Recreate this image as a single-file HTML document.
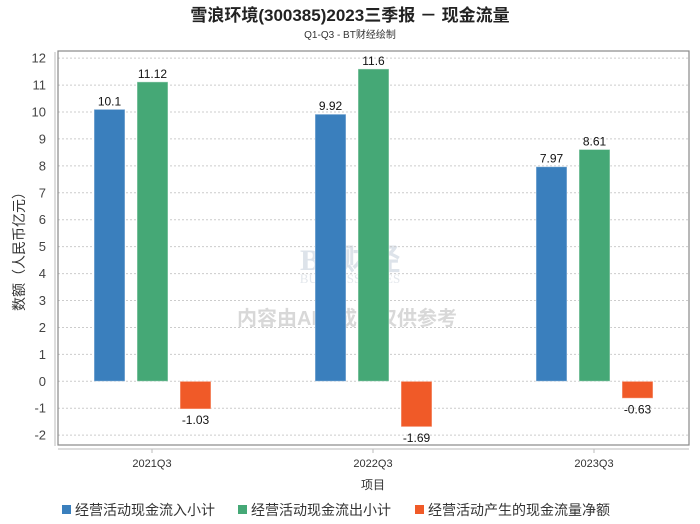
<!DOCTYPE html>
<html><head><meta charset="utf-8"><style>
body{margin:0;background:#fff;}
svg{display:block;font-family:"Liberation Sans","Noto Sans CJK SC",sans-serif;}
</style></head><body>
<svg id="chart" width="700" height="524" xmlns="http://www.w3.org/2000/svg">
<text x="350" y="21" text-anchor="middle" font-size="17" font-weight="bold" fill="#222">雪浪环境(300385)2023三季报 － 现金流量</text>
<text x="350" y="38" text-anchor="middle" font-size="10" fill="#333">Q1-Q3 - BT财经绘制</text>
<text x="350" y="270" text-anchor="middle" font-size="30" font-weight="bold" fill="#dde3ea" font-family="Liberation Serif,serif">BT财经</text>
<text x="350" y="283" text-anchor="middle" font-size="13" fill="#e3e7ec" font-family="Liberation Serif,serif">BUSINESSTIMES</text>
<text x="347" y="325" text-anchor="middle" font-size="20" font-weight="bold" fill="#d8d8d8">内容由AI生成，仅供参考</text>
<g id="grid"></g>
<rect x="58" y="51" width="631" height="394" fill="none" stroke="#888" stroke-width="1.2"/>
<line x1="55" y1="52" x2="55" y2="446" stroke="#bbb"/>
<line x1="58" y1="449" x2="689" y2="449" stroke="#bbb"/>
<g id="bars"></g>
<text transform="translate(24,248) rotate(-90)" text-anchor="middle" font-size="14" fill="#333">数额（人民币亿元）</text>
<text x="373" y="489" text-anchor="middle" font-size="12" fill="#333">项目</text>
<g id="legend"></g>
</svg>
<script>
const categories=["2021Q3","2022Q3","2023Q3"];
const seriesNames=["经营活动现金流入小计","经营活动现金流出小计","经营活动产生的现金流量净额"];
const inflow=[10.1,9.92,7.97];
const outflow=[11.12,11.6,8.61];
const net=[-1.03,-1.69,-0.63];
const yTicks=[12,11,10,9,8,7,6,5,4,3,2,1,0,-1,-2];
const colors=["#3a7fbd","#45a876","#f05a28"];
const NS="http://www.w3.org/2000/svg";
function y(v){return 381.3-v*26.93;}
function xc(i){return 152+i*221;}
function mk(t,a,p){const e=document.createElementNS(NS,t);for(const k in a)e.setAttribute(k,a[k]);p.appendChild(e);return e;}
const grid=document.getElementById('grid');
yTicks.forEach(v=>{
  const l=mk('line',{x1:58,x2:689,y1:y(v),y2:y(v),stroke:'#ccc','stroke-dasharray':'2,2'},grid);
  
  
  const t=mk('text',{x:46,y:y(v)+4.5,'text-anchor':'end','font-size':13,fill:'#444'},grid);
  t.textContent=v;
  
  
});
const bars=document.getElementById('bars');
const all=[inflow,outflow,net];
categories.forEach((c,i)=>{
  const tk=mk('line',{x1:xc(i),x2:xc(i),y1:449,y2:453,stroke:'#bbb'},bars);
  
  
  const lab=mk('text',{x:xc(i),y:467,'text-anchor':'middle','font-size':11,fill:'#333'},bars);
  lab.textContent=c;
  
  
  all.forEach((s,j)=>{
    const v=s[i];const x=xc(i)-58+j*43;
    const top=Math.min(y(v),y(0)),h=Math.abs(y(v)-y(0));
    const r=mk('rect',{x:x,y:top,width:31,height:h,fill:colors[j],stroke:'#fff','stroke-opacity':0.5},bars);
    
    
    const t=mk('text',{x:x+15.5,y:v>=0?y(v)-4:y(v)+15,'text-anchor':'middle','font-size':12,fill:'#111'},bars);
    t.textContent=v;
    
    
  });
});
const lg=document.getElementById('legend');
const lx=[62,238,415];
seriesNames.forEach((n,j)=>{
  const r=mk('rect',{x:lx[j],y:505,width:9,height:9,fill:colors[j]},lg);
  
  
  const t=mk('text',{x:lx[j]+13,y:515,'font-size':14,fill:'#333'},lg);
  t.textContent=n;
  
  
});
</script>
</body></html>
